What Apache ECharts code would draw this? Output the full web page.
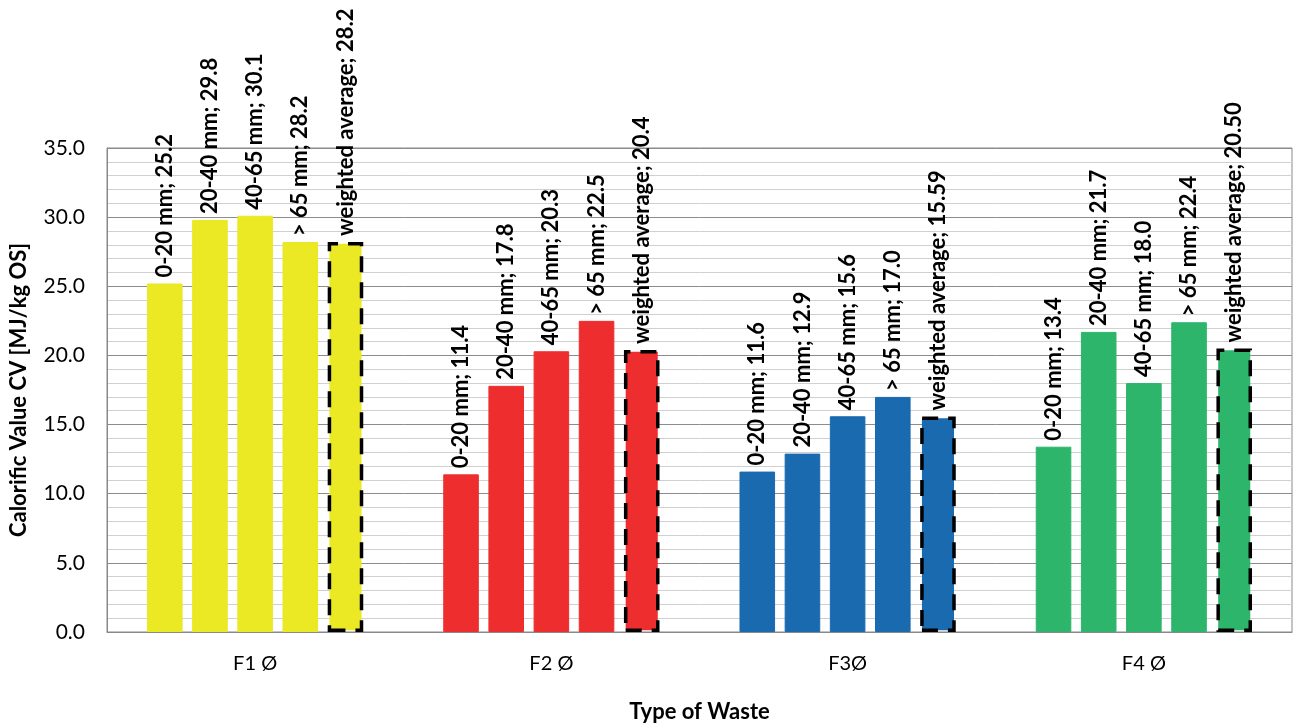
<!DOCTYPE html>
<html><head><meta charset="utf-8">
<script src="https://cdn.jsdelivr.net/npm/echarts@6/dist/echarts.min.js"></script>
<style>html,body{margin:0;padding:0;background:#fff}#c{width:1293px;height:725px}</style>
</head><body><div id="c"></div>
<script>
var categories = ['F1 Ø', 'F2 Ø', 'F3Ø', 'F4 Ø'];
var seriesNames = ['0-20 mm', '20-40 mm', '40-65 mm', '> 65 mm', 'weighted average'];
var groupColors = ['#EBE824', '#EE2E2E', '#1A6AB0', '#2EB56C'];
var v0_20 = [25.2, 11.4, 11.6, 13.4];
var v20_40 = [29.8, 17.8, 12.9, 21.7];
var v40_65 = [30.1, 20.3, 15.6, 18.0];
var v65 = [28.2, 22.5, 17.0, 22.4];
var vAvg = [28.2, 20.4, 15.59, 20.50];
var labelsAvg = ['28.2', '20.4', '15.59', '20.50'];
var yTicks = [0, 5, 10, 15, 20, 25, 30, 35];

var font = 'Lato, "Open Sans", sans-serif';
var allVals = [v0_20, v20_40, v40_65, v65, vAvg];

var series = allVals.map(function (vals, si) {
  var isAvg = si === 4;
  return {
    name: seriesNames[si],
    type: 'bar',
    barGap: '27%',
    barCategoryGap: '27%',
    data: vals.map(function (v, ci) {
      var txt = isAvg ? labelsAvg[ci] : v.toFixed(1);
      return {
        value: v,
        itemStyle: isAvg ? {
          color: groupColors[ci], borderColor: '#000', borderWidth: 3.5,
          borderType: [16, 10]
        } : { color: groupColors[ci], borderColor: groupColors[ci], borderWidth: 1 },
        label: { formatter: seriesNames[si] + '; ' + txt }
      };
    }),
    label: {
      show: true, position: 'top', rotate: 90, align: 'left', verticalAlign: 'middle',
      distance: 6, fontFamily: font, fontWeight: 'bold', fontSize: 22, color: '#000'
    }
  };
});

var chart = echarts.init(document.getElementById('c'));
chart.setOption({
  animation: false,
  grid: { left: 107, right: 1, top: 148, bottom: 93, outerBoundsMode: 'none', containLabel: false,
    show: true, borderColor: '#888', borderWidth: 1, backgroundColor: 'transparent' },
  xAxis: {
    type: 'category', data: categories,
    name: 'Type of Waste', nameLocation: 'middle', nameGap: 69,
    nameTextStyle: { fontFamily: font, fontWeight: 'bold', fontSize: 22, color: '#000' },
    axisLine: { lineStyle: { color: '#888' } },
    axisTick: { show: false },
    axisLabel: { fontFamily: font, fontSize: 20, color: '#000', margin: 22 }
  },
  yAxis: {
    type: 'value', min: yTicks[0], max: yTicks[yTicks.length - 1], interval: 5,
    name: 'Calorific Value CV [MJ/kg OS]', nameLocation: 'middle', nameGap: 77,
    nameTextStyle: { fontFamily: font, fontWeight: 'bold', fontSize: 22, color: '#000' },
    axisLine: { show: true, lineStyle: { color: '#888' } },
    axisTick: { show: false },
    axisLabel: { fontFamily: font, fontSize: 21, color: '#000', margin: 22, formatter: function (v) { return v.toFixed(1); } },
    splitLine: { show: true, lineStyle: { color: '#8c8c8c', width: 1 } },
    minorTick: { show: false, splitNumber: 5 },
    minorSplitLine: { show: true, lineStyle: { color: '#d0d0d0', width: 1 } }
  },
  series: series
});
</script>
</body></html>
